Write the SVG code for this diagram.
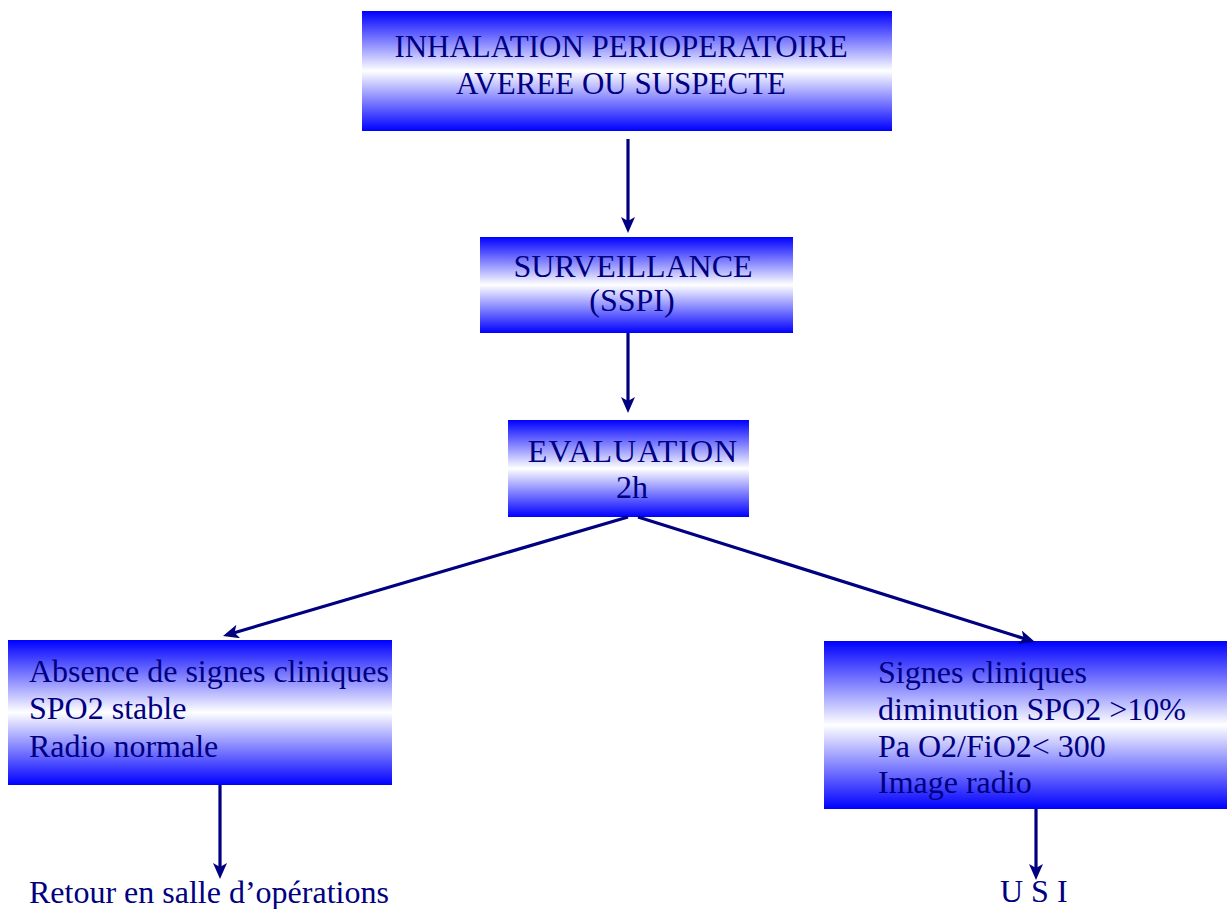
<svg xmlns="http://www.w3.org/2000/svg" width="1227" height="909" viewBox="0 0 1227 909">
<style>
.box{fill:url(#g);}
.t{font-family:"Liberation Serif","Times New Roman",serif;font-size:32px;fill:#000080;}
.c{text-anchor:middle;}
.a{stroke:#000080;stroke-width:3.2;fill:none;marker-end:url(#ah);}
</style>
<defs>
<linearGradient id="g" x1="0" y1="0" x2="0" y2="1">
<stop offset="0" stop-color="#0000ff"/>
<stop offset="0.5" stop-color="#ffffff"/>
<stop offset="1" stop-color="#0000ff"/>
</linearGradient>
<marker id="ah" viewBox="0 0 16 14" refX="6" refY="7" markerWidth="16" markerHeight="14" markerUnits="userSpaceOnUse" orient="auto">
<path d="M0,0 L16,7 L0,14 L4,7 z" fill="#000080"/>
</marker>
</defs>
<g id="n1">
<rect class="box" x="362" y="11" width="530" height="120"/>
<text class="t c" x="621" y="57" style="font-size:31px">INHALATION PERIOPERATOIRE</text>
<text class="t c" x="621" y="94" style="font-size:31px">AVEREE OU SUSPECTE</text>
</g>
<g id="n2">
<rect class="box" x="480" y="237" width="313" height="96"/>
<text class="t c" x="633" y="277">SURVEILLANCE</text>
<text class="t c" x="632" y="311">(SSPI)</text>
</g>
<g id="n3">
<rect class="box" x="508" y="420" width="241" height="97"/>
<text class="t c" x="633" y="462" style="letter-spacing:1px">EVALUATION</text>
<text class="t c" x="632" y="498">2h</text>
</g>
<g id="n4">
<rect class="box" x="8" y="640" width="384" height="145"/>
<text class="t" x="29" y="682">Absence de signes cliniques</text>
<text class="t" x="29" y="719">SPO2 stable</text>
<text class="t" x="29" y="757">Radio normale</text>
</g>
<g id="n5">
<rect class="box" x="824" y="641" width="403" height="168"/>
<text class="t" x="878" y="683">Signes cliniques</text>
<text class="t" x="878" y="720">diminution SPO2 &gt;10%</text>
<text class="t" x="878" y="757">Pa O2/FiO2&lt; 300</text>
<text class="t" x="878" y="793">Image radio</text>
</g>
<g id="n6">
<text class="t" x="29" y="903">Retour en salle d’opérations</text>
</g>
<g id="n7">
<text class="t" x="1000" y="902">U S I</text>
</g>
<g id="connectors">
<line class="a" x1="628" y1="139" x2="628" y2="223"/>
<line class="a" x1="628" y1="333" x2="628" y2="403"/>
<line class="a" x1="628" y1="517" x2="232.6" y2="633.2"/>
<line class="a" x1="638" y1="517" x2="1025.5" y2="639"/>
<line class="a" x1="220" y1="785" x2="220" y2="869"/>
<line class="a" x1="1036" y1="809" x2="1036" y2="870"/>
</g>
</svg>
